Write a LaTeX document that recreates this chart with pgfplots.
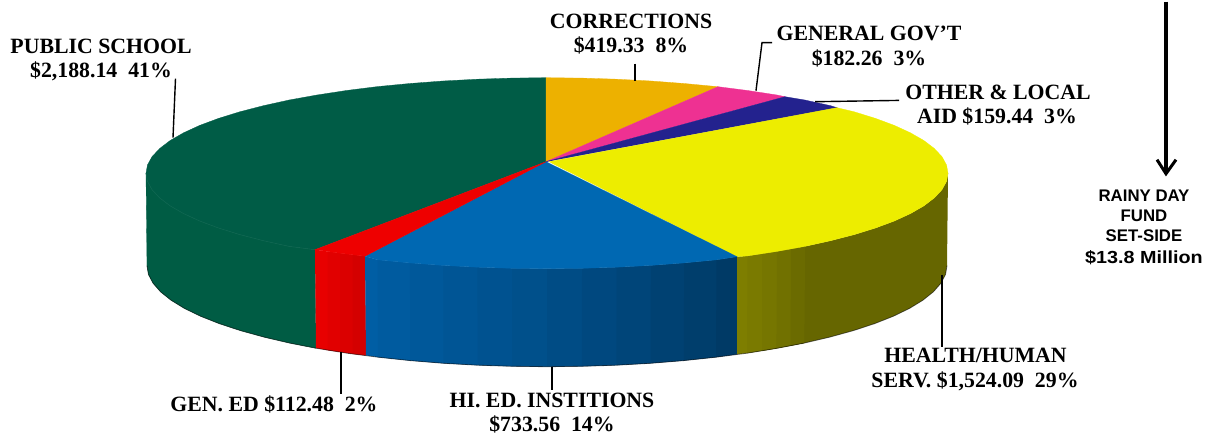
\documentclass[border=0pt]{standalone}
\usepackage{fontspec}
\setmainfont{Liberation Serif}
\newfontfamily\arialf{Liberation Sans}
\usepackage{pgfplots}
\pgfplotsset{compat=1.18}
\definecolor{cgreen}{HTML}{005C46}
\definecolor{cgreens}{HTML}{005C44}
\definecolor{corange}{HTML}{EDB100}
\definecolor{cpink}{HTML}{EE3192}
\definecolor{cnavy}{HTML}{23228E}
\definecolor{cyellow}{HTML}{EDED00}
\definecolor{cblue}{HTML}{0068B2}
\definecolor{cred}{HTML}{EE0000}
\definecolor{bl}{HTML}{005EA4}
\definecolor{br}{HTML}{003A66}
\definecolor{rl}{HTML}{E80000}
\definecolor{rr}{HTML}{D40000}
\definecolor{ol}{HTML}{7E7E00}
\definecolor{orr}{HTML}{666600}
\newcommand{\lab}[3]{\node[anchor=base,inner sep=0pt,font=\fontsize{21.8}{21.8}\selectfont\bfseries] at (axis cs:#1,#2) {#3};}
\newcommand{\labs}[3]{\node[anchor=base,inner sep=0pt,font=\arialf\fontsize{16.8}{16.8}\selectfont\bfseries] at (axis cs:#1,#2) {#3};}
\begin{document}
\begin{tikzpicture}
\begin{axis}[scale only axis,width=1212pt,height=436pt,xmin=0,xmax=1212,ymin=0,ymax=436,y dir=reverse,hide axis,clip=false]
\path (axis cs:0,0) rectangle (axis cs:1212,436);
% green side
\addplot[fill=cgreens,draw=cgreens,line width=.3pt] coordinates {(146,171.5)(147.5,179.8)(152.1,188.1)(159.7,196.2)(170.2,204.2)(183.6,211.9)(199.7,219.3)(218.5,226.3)(239.8,232.9)(263.4,239)(289.2,244.7)(315,248)(316,346.5)(289.9,341.4)(264.2,335.4)(240.6,328.9)(219.3,321.9)(200.6,314.5)(184.5,306.7)(171.1,298.5)(160.6,290.1)(153.1,281.5)(148.5,272.8)(147,264)} --cycle;
% red side (each strip runs under the next one)
\addplot[fill=rl,draw=none] coordinates {(315,248)(327.5,249.8)(340,251.5)(340,350.3)(327.5,348.5)(316,346.5)} --cycle;
\addplot[fill=rl!66!rr,draw=none] coordinates {(327.5,249.8)(340,251.5)(352.5,253)(352.5,352.2)(340,350.3)(327.5,348.5)} --cycle;
\addplot[fill=rl!33!rr,draw=none] coordinates {(340,251.5)(352.5,253)(365,254.5)(366,353.8)(352.5,352.2)(340,350.3)} --cycle;
\addplot[fill=rr,draw=none] coordinates {(352.5,253)(365,254.5)(366,353.8)(352.5,352.2)} --cycle;
% blue side strips
\addplot[fill=bl!100!br,draw=none] coordinates {(365,254.5)(377.5,258.1)(409.9,261.2)(410.2,358.9)(378,355.5)(366,353.8)} --cycle;
\addplot[fill=bl!92!br,draw=none] coordinates {(377.5,258.1)(409.9,261.2)(443.2,263.7)(443.5,361.6)(410.2,358.9)(378,355.5)} --cycle;
\addplot[fill=bl!84!br,draw=none] coordinates {(409.9,261.2)(443.2,263.7)(477.4,265.5)(477.6,363.5)(443.5,361.6)(410.2,358.9)} --cycle;
\addplot[fill=bl!76!br,draw=none] coordinates {(443.2,263.7)(477.4,265.5)(512,266.6)(512.1,364.6)(477.6,363.5)(443.5,361.6)} --cycle;
\addplot[fill=bl!68!br,draw=none] coordinates {(477.4,265.5)(512,266.6)(547,267)(547,365)(512.1,364.6)(477.6,363.5)} --cycle;
\addplot[fill=bl!60!br,draw=none] coordinates {(512,266.6)(547,267)(582,266.6)(581.9,364.6)(547,365)(512.1,364.6)} --cycle;
\addplot[fill=bl!50!br,draw=none] coordinates {(547,267)(582,266.6)(616.6,265.5)(616.4,363.5)(581.9,364.6)(547,365)} --cycle;
\addplot[fill=bl!40!br,draw=none] coordinates {(582,266.6)(616.6,265.5)(650.8,263.7)(650.5,361.6)(616.4,363.5)(581.9,364.6)} --cycle;
\addplot[fill=bl!30!br,draw=none] coordinates {(616.6,265.5)(650.8,263.7)(684.1,261.2)(683.8,358.9)(650.5,361.6)(616.4,363.5)} --cycle;
\addplot[fill=bl!20!br,draw=none] coordinates {(650.8,263.7)(684.1,261.2)(716.5,258.1)(716,355.5)(683.8,358.9)(650.5,361.6)} --cycle;
\addplot[fill=bl!10!br,draw=none] coordinates {(684.1,261.2)(716.5,258.1)(737,255)(737,352.6)(716,355.5)(683.8,358.9)} --cycle;
\addplot[fill=br,draw=none] coordinates {(716.5,258.1)(737,255)(737,352.6)(716,355.5)} --cycle;
% olive side: flat base, then strips over it
\addplot[fill=orr,draw=none] coordinates {(762,252)(777,249.7)(804.8,244.7)(830.6,239)(854.2,232.9)(875.5,226.3)(894.3,219.3)(910.4,211.9)(923.8,204.2)(934.3,196.2)(941.9,188.1)(946.5,179.8)(948,171.5)(947,264)(945.5,272.8)(940.9,281.5)(933.4,290.1)(922.9,298.5)(909.5,306.7)(893.4,314.5)(874.7,321.9)(853.4,328.9)(829.8,335.4)(804.1,341.4)(776.4,346.7)(762,349.1)} --cycle;
\addplot[fill=ol,draw=none] coordinates {(737,255)(747.5,254.2)(762,252)(762,349.1)(747,351.5)(737,352.6)} --cycle;
\addplot[fill=ol!85!orr,draw=none] coordinates {(747.5,254.2)(762,252)(777,249.7)(776.4,346.7)(762,349.1)(747,351.5)} --cycle;
\addplot[fill=ol!65!orr,draw=none] coordinates {(762,252)(777,249.7)(791,247.2)(790.5,344.1)(776.4,346.7)(762,349.1)} --cycle;
\addplot[fill=ol!45!orr,draw=none] coordinates {(777,249.7)(791,247.2)(804.8,244.7)(804.1,341.4)(790.5,344.1)(776.4,346.7)} --cycle;
\addplot[fill=ol!20!orr,draw=none] coordinates {(791,247.2)(804.8,244.7)(804.1,341.4)(790.5,344.1)} --cycle;
% dark lower rim
\addplot[black,opacity=.55,line width=.8pt] coordinates {(147,264)(148.5,272.8)(153.1,281.5)(160.6,290.1)(171.1,298.5)(184.5,306.7)(200.6,314.5)(219.3,321.9)(240.6,328.9)(264.2,335.4)(289.9,341.4)(316,346.5)(347,351.5)(378,355.5)(410.2,358.9)(443.5,361.6)(477.6,363.5)(512.1,364.6)(547,365)(581.9,364.6)(616.4,363.5)(650.5,361.6)(683.8,358.9)(716,355.5)(747,351.5)(776.4,346.7)(804.1,341.4)(829.8,335.4)(853.4,328.9)(874.7,321.9)(893.4,314.5)(909.5,306.7)(922.9,298.5)(933.4,290.1)(940.9,281.5)(945.5,272.8)(947,264)};
% top: green
\addplot[fill=cgreen,draw=cgreen,line width=.3pt] coordinates {(546,160)(315,248)(289.2,244.7)(263.4,239)(239.8,232.9)(218.5,226.3)(199.7,219.3)(183.6,211.9)(170.2,204.2)(159.7,196.2)(152.1,188.1)(147.5,179.8)(146,171.5)(147.5,163.2)(152.1,154.9)(159.7,146.8)(170.2,138.8)(183.6,131.1)(199.7,123.7)(218.5,116.7)(239.8,110.1)(263.4,104)(289.2,98.3)(317,93.3)(346.5,88.8)(377.5,84.9)(409.9,81.8)(443.2,79.3)(477.4,77.5)(512,76.4)(546,76)} --cycle;
% lighter rim on green
\addplot[color=cgreen!94!white,line width=.6pt] coordinates {(146,171.5)(147.5,179.8)(152.1,188.1)(159.7,196.2)(170.2,204.2)(183.6,211.9)(199.7,219.3)(218.5,226.3)(239.8,232.9)(263.4,239)(289.2,244.7)(315,248)};
% top: orange
\addplot[fill=corange,draw=corange,line width=.3pt] coordinates {(546,160)(546,76)(582,76.4)(616.6,77.5)(650.8,79.3)(684.1,81.8)(718,85)} --cycle;
% top: pink
\addplot[fill=cpink,draw=cpink,line width=.3pt] coordinates {(546,160)(718,85)(747.5,88.8)(777,93.3)(785,95)} --cycle;
% top: navy
\addplot[fill=cnavy,draw=cnavy,line width=.3pt] coordinates {(546,160)(785,95)(804.8,98.3)(830.6,104)(837,106)} --cycle;
% top: yellow
\addplot[fill=cyellow,draw=cyellow,line width=.3pt] coordinates {(549,160)(837,106)(854.2,110.1)(875.5,116.7)(894.3,123.7)(910.4,131.1)(923.8,138.8)(934.3,146.8)(941.9,154.9)(946.5,163.2)(948,171.5)(946.5,179.8)(941.9,188.1)(934.3,196.2)(923.8,204.2)(910.4,211.9)(894.3,219.3)(875.5,226.3)(854.2,232.9)(830.6,239)(804.8,244.7)(777,249.7)(747.5,254.2)(737,255)} --cycle;
% top: blue
\addplot[fill=cblue,draw=cblue,line width=.3pt] coordinates {(546,160)(737,255)(716.5,258.1)(684.1,261.2)(650.8,263.7)(616.6,265.5)(582,266.6)(547,267)(512,266.6)(477.4,265.5)(443.2,263.7)(409.9,261.2)(377.5,258.1)(365,254.5)} --cycle;
% top: red
\addplot[fill=cred,draw=cred,line width=.3pt] coordinates {(546,160)(315,248)(340,251.5)(365,254.5)} --cycle;
% leaders
\addplot[black,line width=1.4pt] coordinates {(175.5,77)(173,136)};
\addplot[black,line width=1.4pt] coordinates {(635,62)(635,79)};
\addplot[black,line width=1.4pt] coordinates {(772,41)(762,41)(756,89)};
\addplot[black,line width=1.4pt] coordinates {(899,98.7)(815,100)};
\addplot[black,line width=1.4pt] coordinates {(341,350)(341,392)};
\addplot[black,line width=1.4pt] coordinates {(552,365)(552,388)};
\addplot[black,line width=1.4pt] coordinates {(942,273)(942,345)};
% arrow
\addplot[black,line width=3.4pt] coordinates {(1166,0)(1166,172)};
\addplot[black,line width=3pt,line join=miter] coordinates {(1157,158)(1166,172)(1176,158)};
% labels
\lab{101}{52}{PUBLIC SCHOOL}
\lab{101}{76}{\$2,188.14\ \ 41\%}
\lab{631}{27}{CORRECTIONS}
\lab{631}{51}{\$419.33\ \ 8\%}
\lab{869}{39}{GENERAL GOV'T}
\lab{869}{64}{\$182.26\ \ 3\%}
\lab{998}{98}{OTHER \& LOCAL}
\lab{997}{122}{AID \$159.44\ \ 3\%}
\lab{975.5}{361}{HEALTH/HUMAN}
\lab{975}{386}{SERV. \$1,524.09\ \ 29\%}
\lab{274}{410}{GEN. ED \$112.48\ \ 2\%}
\lab{552}{406}{HI. ED. INSTITIONS}
\lab{552}{430}{\$733.56\ \ 14\%}
\labs{1144}{200}{RAINY DAY}
\labs{1144}{220}{FUND}
\labs{1144}{240}{SET-SIDE}
\node[anchor=base,inner sep=0pt,font=\arialf\fontsize{17.5}{17.5}\selectfont\bfseries] at (axis cs:1144,262) {\scalebox{1.13}[1]{\$13.8 Million}};
\end{axis}
\end{tikzpicture}
\end{document}
